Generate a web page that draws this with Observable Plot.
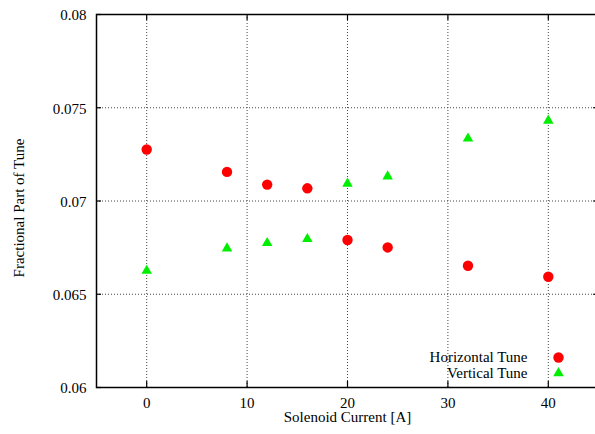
<!DOCTYPE html>
<html>
<head>
<meta charset="utf-8">
<script src="https://cdn.jsdelivr.net/npm/d3@7"></script>
<script src="https://cdn.jsdelivr.net/npm/@observablehq/plot@0.6"></script>
<style>
  html, body { margin: 0; padding: 0; background: white; }
  svg text { font-family: "Liberation Serif", "Times New Roman", serif; }
</style>
</head>
<body>
<div id="chart"></div>
<script>
// Data
const current = [0, 8, 12, 16, 20, 24, 32, 40];
const horizontalTune = [0.07276, 0.07156, 0.07088, 0.07068, 0.06791, 0.06751, 0.06653, 0.06594];
const verticalTune = [0.06626, 0.06746, 0.06775, 0.06796, 0.07093, 0.07132, 0.07335, 0.07431];
const seriesNames = ["Horizontal Tune", "Vertical Tune"];
const xTicks = [0, 10, 20, 30, 40];
const xTickLabels = ["0", "10", "20", "30", "40"];
const yTicks = [0.06, 0.065, 0.07, 0.075, 0.08];
const yTickLabels = ["0.06", "0.065", "0.07", "0.075", "0.08"];
const xDomain = [-5, 45];
const yDomain = [0.06, 0.08];
const xTitle = "Solenoid Current [A]";
const yTitle = "Fractional Part of Tune";

const W = 595, H = 434;
const mL = 96, mT = 14, mB = 47, mR = -3;
const plotH = H - mT - mB, plotW = W - mL - mR;
const xTickLen = (yDomain[1] - yDomain[0]) * 6 / plotH;
const yTickLen = (xDomain[1] - xDomain[0]) * 5 / plotW;

const hData = current.map((x, i) => ({x, y: horizontalTune[i]}));
const vData = current.map((x, i) => ({x, y: verticalTune[i]}));
const innerX = xTicks.filter(t => t > xDomain[0] && t < xDomain[1]);
const innerY = yTicks.filter(t => t > yDomain[0] && t < yDomain[1]);

const grid = {stroke: "#444", strokeWidth: 1, strokeDasharray: "1,2"};
const font = {fontFamily: "Liberation Serif", fontSize: 15, fill: "black", lineAnchor: "middle"};

const chart = Plot.plot({
  width: W, height: H,
  marginLeft: mL, marginTop: mT, marginBottom: mB, marginRight: mR,
  style: {background: "white", color: "black"},
  x: {domain: xDomain, axis: null},
  y: {domain: yDomain, axis: null},
  marks: [
    // grid
    Plot.ruleX(innerX, {x: d => d, y1: yDomain[0], y2: yDomain[1], ...grid}),
    Plot.ruleY(innerY, {y: d => d, x1: xDomain[0], x2: xDomain[1], ...grid}),
    // inward ticks
    Plot.ruleX(xTicks, {x: d => d, y1: yDomain[0], y2: yDomain[0] + xTickLen, stroke: "black", strokeWidth: 1.2}),
    Plot.ruleX(xTicks, {x: d => d, y1: yDomain[1], y2: yDomain[1] - xTickLen, stroke: "black", strokeWidth: 1.2}),
    Plot.ruleY(yTicks, {y: d => d, x1: xDomain[0], x2: xDomain[0] + yTickLen, stroke: "black", strokeWidth: 1.2}),
    Plot.ruleY(yTicks, {y: d => d, x1: xDomain[1], x2: xDomain[1] - yTickLen, stroke: "black", strokeWidth: 1.2}),
    Plot.frame({stroke: "black", strokeWidth: 1.5}),
    // tick labels
    Plot.text(xTicks, {x: d => d, text: (d, i) => xTickLabels[i], frameAnchor: "bottom", dy: 15.5, textAnchor: "middle", ...font}),
    Plot.text(yTicks, {y: d => d, text: (d, i) => yTickLabels[i], frameAnchor: "left", dx: -10, dy: 1, textAnchor: "end", ...font}),
    // axis titles
    Plot.text([xTitle], {text: d => d, frameAnchor: "bottom", dy: 30, textAnchor: "middle", ...font}),
    Plot.text([yTitle], {text: d => d, frameAnchor: "left", dx: -77, dy: 7, rotate: -90, textAnchor: "middle", ...font}),
    // data
    Plot.dot(hData, {x: "x", y: "y", r: 5.2, fill: "#ff0000", stroke: "none", symbol: "circle"}),
    Plot.dot(vData, {x: "x", y: "y", r: 3.9, fill: "#00ee00", stroke: "none", symbol: "triangle"}),
    // legend
    Plot.text([seriesNames[0]], {text: d => d, frameAnchor: "bottom-right", dx: -71, dy: -30, textAnchor: "end", ...font}),
    Plot.text([seriesNames[1]], {text: d => d, frameAnchor: "bottom-right", dx: -71, dy: -14.4, textAnchor: "end", ...font}),
    Plot.dot([0], {frameAnchor: "bottom-right", dx: -40, dy: -30, r: 5.2, fill: "#ff0000", stroke: "none", symbol: "circle"}),
    Plot.dot([0], {frameAnchor: "bottom-right", dx: -40, dy: -14.4, r: 3.9, fill: "#00ee00", stroke: "none", symbol: "triangle"})
  ]
});
document.getElementById("chart").appendChild(chart);
</script>
</body>
</html>
